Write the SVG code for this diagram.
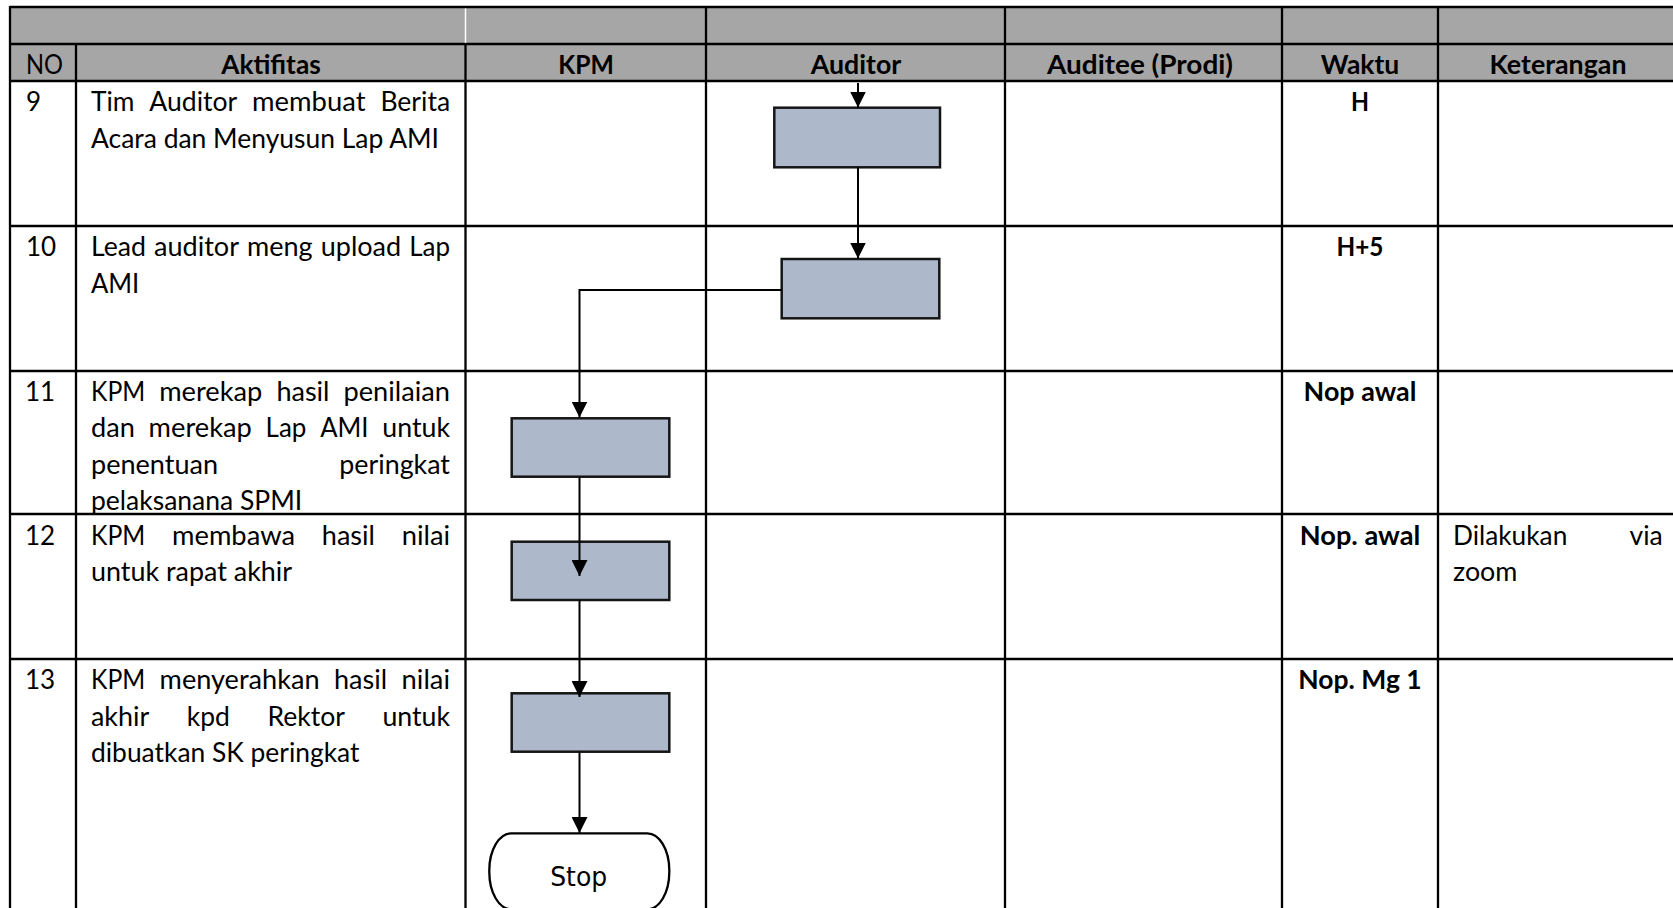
<svg xmlns="http://www.w3.org/2000/svg" width="1673" height="908" viewBox="0 0 1673 908">
<defs>
<style>
.g{stroke:#000;stroke-width:2.3;fill:none}
.t{font-family:Lato,"Liberation Sans",sans-serif;font-size:26px;fill:#000}
.b{font-weight:bold}
.c{text-anchor:middle}
.box{fill:#ADB9CA;stroke:#151515;stroke-width:2.5}
.conn{stroke:#000;stroke-width:2;fill:none}
.stopT{font-family:"DejaVu Sans",Verdana,sans-serif;font-size:27px;fill:#000;text-anchor:middle}
</style>
<marker id="ah" markerUnits="userSpaceOnUse" markerWidth="16" markerHeight="16" refX="15" refY="7.5" orient="auto" viewBox="0 0 15 15">
<path d="M0,0 L15,7.5 L0,15 z" fill="#000"/>
</marker>
</defs>
<rect width="1673" height="908" fill="#fff"/>
<g id="table">
<rect x="10" y="7" width="1663" height="74" fill="#A6A6A6"/>
<g class="g">
<line x1="10" y1="7" x2="1673" y2="7"/>
<line x1="10" y1="44" x2="1673" y2="44"/>
<line x1="10" y1="81" x2="1673" y2="81"/>
<line x1="10" y1="226" x2="1673" y2="226"/>
<line x1="10" y1="371" x2="1673" y2="371"/>
<line x1="10" y1="514" x2="1673" y2="514"/>
<line x1="10" y1="659" x2="1673" y2="659"/>
<line x1="10" y1="6" x2="10" y2="908"/>
<line x1="76" y1="44" x2="76" y2="908"/>
<line x1="465.5" y1="44" x2="465.5" y2="908"/>
<line x1="706" y1="7" x2="706" y2="908"/>
<line x1="1005" y1="7" x2="1005" y2="908"/>
<line x1="1282" y1="7" x2="1282" y2="908"/>
<line x1="1438" y1="7" x2="1438" y2="908"/>
</g>
<line x1="465.5" y1="8.5" x2="465.5" y2="42.8" stroke="#fff" stroke-width="1.5"/>
</g>
<g id="header">
<text class="t" x="26" y="73.5" textLength="37" lengthAdjust="spacingAndGlyphs">NO</text>
<text class="t b c" x="271" y="73.5" textLength="99.5" lengthAdjust="spacingAndGlyphs">Aktifitas</text>
<text class="t b c" x="586" y="73.5" textLength="55.5" lengthAdjust="spacingAndGlyphs">KPM</text>
<text class="t b c" x="856" y="73.5" textLength="90.5" lengthAdjust="spacingAndGlyphs">Auditor</text>
<text class="t b c" x="1140" y="73.5" textLength="186" lengthAdjust="spacingAndGlyphs">Auditee (Prodi)</text>
<text class="t b c" x="1360" y="73.5" textLength="78.5" lengthAdjust="spacingAndGlyphs">Waktu</text>
<text class="t b c" x="1558" y="73.5" textLength="137" lengthAdjust="spacingAndGlyphs">Keterangan</text>
</g>
<g id="row9">
<text class="t" x="26" y="111">9</text>
<text class="t" x="91" y="111" textLength="43.4" lengthAdjust="spacingAndGlyphs">Tim</text>
<text class="t" x="149.3" y="111" textLength="87.9" lengthAdjust="spacingAndGlyphs">Auditor</text>
<text class="t" x="252.1" y="111" textLength="113.4" lengthAdjust="spacingAndGlyphs">membuat</text>
<text class="t" x="380.4" y="111" textLength="69.7" lengthAdjust="spacingAndGlyphs">Berita</text>
<text class="t" x="91" y="147.7" textLength="348" lengthAdjust="spacingAndGlyphs">Acara dan Menyusun Lap AMI</text>
<text class="t b c" x="1360" y="111" textLength="18" lengthAdjust="spacingAndGlyphs">H</text>
</g>
<g id="row10">
<text class="t" x="26" y="256">10</text>
<text class="t" x="91" y="256" textLength="55" lengthAdjust="spacingAndGlyphs">Lead</text>
<text class="t" x="154" y="256" textLength="85" lengthAdjust="spacingAndGlyphs">auditor</text>
<text class="t" x="247" y="256" textLength="65.7" lengthAdjust="spacingAndGlyphs">meng</text>
<text class="t" x="320.7" y="256" textLength="80.5" lengthAdjust="spacingAndGlyphs">upload</text>
<text class="t" x="409.2" y="256" textLength="40.8" lengthAdjust="spacingAndGlyphs">Lap</text>
<text class="t" x="91" y="292.7" textLength="48.3" lengthAdjust="spacingAndGlyphs">AMI</text>
<text class="t b c" x="1360" y="256" textLength="46.9" lengthAdjust="spacingAndGlyphs">H+5</text>
</g>
<g id="row11">
<text class="t" x="25" y="400.5">11</text>
<text class="t" x="91" y="400.5" textLength="54.2" lengthAdjust="spacingAndGlyphs">KPM</text>
<text class="t" x="159.2" y="400.5" textLength="103.2" lengthAdjust="spacingAndGlyphs">merekap</text>
<text class="t" x="276.4" y="400.5" textLength="53.1" lengthAdjust="spacingAndGlyphs">hasil</text>
<text class="t" x="343.5" y="400.5" textLength="106.5" lengthAdjust="spacingAndGlyphs">penilaian</text>
<text class="t" x="91" y="437.2" textLength="43.8" lengthAdjust="spacingAndGlyphs">dan</text>
<text class="t" x="148.6" y="437.2" textLength="103.2" lengthAdjust="spacingAndGlyphs">merekap</text>
<text class="t" x="265.6" y="437.2" textLength="40.8" lengthAdjust="spacingAndGlyphs">Lap</text>
<text class="t" x="320.2" y="437.2" textLength="48.3" lengthAdjust="spacingAndGlyphs">AMI</text>
<text class="t" x="382.3" y="437.2" textLength="67.7" lengthAdjust="spacingAndGlyphs">untuk</text>
<text class="t" x="91" y="473.8" textLength="127" lengthAdjust="spacingAndGlyphs">penentuan</text>
<text class="t" x="339.3" y="473.8" textLength="110.7" lengthAdjust="spacingAndGlyphs">peringkat</text>
<text class="t" x="91" y="510.3" textLength="211.2" lengthAdjust="spacingAndGlyphs">pelaksanana SPMI</text>
<text class="t b c" x="1360" y="400.5" textLength="112.8" lengthAdjust="spacingAndGlyphs">Nop awal</text>
</g>
<g id="row12">
<text class="t" x="25" y="544.5">12</text>
<text class="t" x="91" y="544.5" textLength="54.2" lengthAdjust="spacingAndGlyphs">KPM</text>
<text class="t" x="172" y="544.5" textLength="123" lengthAdjust="spacingAndGlyphs">membawa</text>
<text class="t" x="321.8" y="544.5" textLength="53.1" lengthAdjust="spacingAndGlyphs">hasil</text>
<text class="t" x="401.7" y="544.5" textLength="48.4" lengthAdjust="spacingAndGlyphs">nilai</text>
<text class="t" x="91" y="581.2" textLength="201.1" lengthAdjust="spacingAndGlyphs">untuk rapat akhir</text>
<text class="t b c" x="1360" y="544.5" textLength="120.5" lengthAdjust="spacingAndGlyphs">Nop. awal</text>
<text class="t" x="1453" y="544.5" textLength="114.3" lengthAdjust="spacingAndGlyphs">Dilakukan</text>
<text class="t" x="1629.5" y="544.5" textLength="33.2" lengthAdjust="spacingAndGlyphs">via</text>
<text class="t" x="1453" y="581.2" textLength="64.4" lengthAdjust="spacingAndGlyphs">zoom</text>
</g>
<g id="row13">
<text class="t" x="25" y="689">13</text>
<text class="t" x="91" y="689" textLength="54.2" lengthAdjust="spacingAndGlyphs">KPM</text>
<text class="t" x="159.6" y="689" textLength="160" lengthAdjust="spacingAndGlyphs">menyerahkan</text>
<text class="t" x="334" y="689" textLength="53.1" lengthAdjust="spacingAndGlyphs">hasil</text>
<text class="t" x="401.6" y="689" textLength="48.4" lengthAdjust="spacingAndGlyphs">nilai</text>
<text class="t" x="91" y="725.7" textLength="58.3" lengthAdjust="spacingAndGlyphs">akhir</text>
<text class="t" x="186.8" y="725.7" textLength="43.1" lengthAdjust="spacingAndGlyphs">kpd</text>
<text class="t" x="267.4" y="725.7" textLength="77.5" lengthAdjust="spacingAndGlyphs">Rektor</text>
<text class="t" x="382.4" y="725.7" textLength="67.7" lengthAdjust="spacingAndGlyphs">untuk</text>
<text class="t" x="91" y="762.3" textLength="268.5" lengthAdjust="spacingAndGlyphs">dibuatkan SK peringkat</text>
<text class="t b c" x="1360" y="689" textLength="123.4" lengthAdjust="spacingAndGlyphs">Nop. Mg 1</text>
</g>
<g id="node-auditor-9"><rect class="box" x="774.3" y="107.7" width="165.7" height="59.6"/></g>
<g id="node-auditor-10"><rect class="box" x="781.7" y="259" width="157.6" height="59.3"/></g>
<g id="node-kpm-11"><rect class="box" x="511.7" y="418.3" width="157.6" height="58.4"/></g>
<g id="node-kpm-12"><rect class="box" x="511.7" y="541.7" width="157.6" height="58.3"/></g>
<g id="node-kpm-13"><rect class="box" x="511.7" y="693.3" width="157.6" height="58.4"/></g>
<g id="node-stop">
<rect x="489.3" y="833.3" width="180" height="76" rx="22" ry="37" fill="#fff" stroke="#000" stroke-width="2.3"/>
<text class="stopT" x="578.7" y="885.5" textLength="57" lengthAdjust="spacingAndGlyphs">Stop</text>
</g>
<g id="connectors">
<line class="conn" x1="858" y1="83" x2="858" y2="107.5" marker-end="url(#ah)"/>
<line class="conn" x1="858" y1="167.3" x2="858" y2="258.5" marker-end="url(#ah)"/>
<polyline class="conn" points="781.7,290 579.5,290 579.5,417.5" marker-end="url(#ah)"/>
<line class="conn" x1="579.5" y1="476.7" x2="579.5" y2="576" stroke-width="3.3" marker-end="url(#ah)"/>
<line class="conn" x1="579.5" y1="600" x2="579.5" y2="697" marker-end="url(#ah)"/>
<line class="conn" x1="579.5" y1="751.7" x2="579.5" y2="833" marker-end="url(#ah)"/>
</g>
</svg>
